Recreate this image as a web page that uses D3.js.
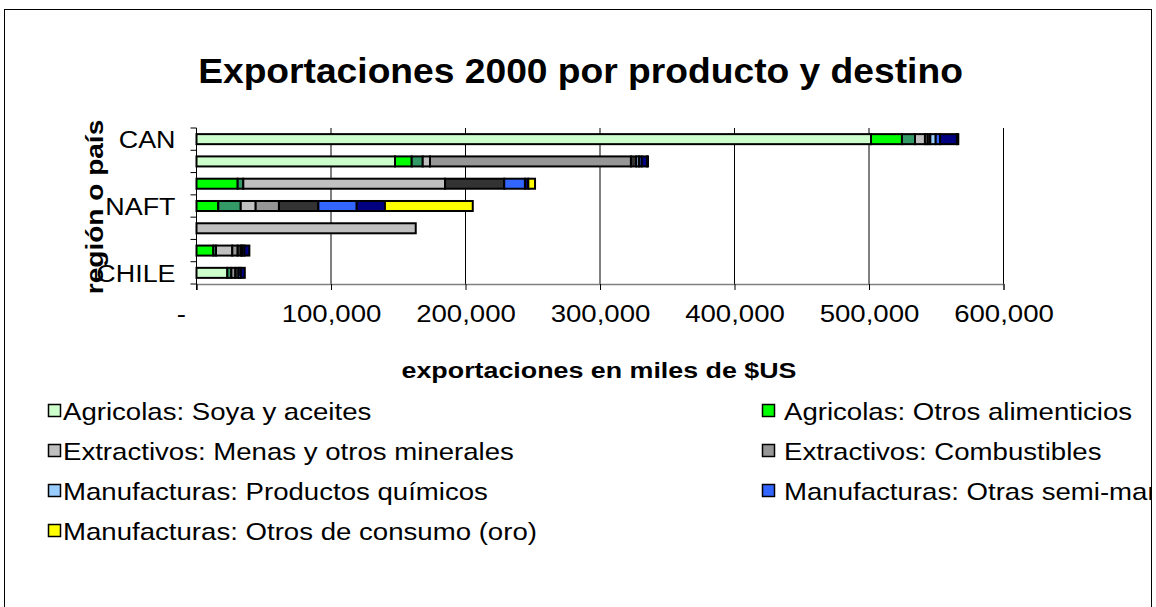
<!DOCTYPE html>
<html>
<head>
  <meta charset="utf-8">
  <title>Exportaciones 2000 por producto y destino</title>
  <script src="https://d3js.org/d3.v7.min.js"></script>
  <style>
    body { margin: 0; overflow: hidden; background: #fff; }
    svg { display: block; font-family: Arial, "Liberation Sans", sans-serif; }
  </style>
</head>
<body>
  <svg width="1156" height="607"></svg>

  <script>
    // categorías (de arriba hacia abajo) y etiquetas visibles cada 3
    const regiones = ["CAN", "MERCOSUR", "UE", "NAFT", "ASIA", "RESTO", "CHILE"];
    const regionesVisibles = ["CAN", "NAFT", "CHILE"];

    // series en el orden de apilamiento
    const series = [
      "Agricolas: Soya y aceites",
      "Agricolas: Otros alimenticios",
      "Agricolas: Otros",
      "Extractivos: Menas y otros minerales",
      "Extractivos: Combustibles",
      "Extractivos: Otros",
      "Manufacturas: Productos químicos",
      "Manufacturas: Otras semi-manufacturas",
      "Manufacturas: Otras",
      "Manufacturas: Otros de consumo (oro)"
    ];
    const colores = ["#ccffcc", "#00ff00", "#339966", "#c0c0c0", "#969696",
                     "#333333", "#99ccff", "#3366ff", "#000080", "#ffff00"];

    // valores en miles de $US, una fila por región
    const soya      = [501.5, 147.6,   0,    0,    0,   0,   22.9];
    const alimentos = [ 23.0,  12.4,  30.6, 16.2,  0,  12.5,  0  ];
    const agrOtros  = [  9.7,   8.2,   4.2, 16.7,  0,   2.0,  3.0];
    const menas     = [  7.4,   5.4, 150.0, 11.1, 163, 12.1,  0  ];
    const combust   = [  2.0, 149.4,   0,   17.3,  0,   4.0,  3.0];
    const extOtros  = [  2.0,   4.0,  44.0, 29.3,  0,   2.5,  2.5];
    const quimicos  = [  4.0,   2.0,   0,    0,    0,   1.0,  0  ];
    const semiManu  = [  3.2,   2.0,  15.4, 28.5,  0,   1.5,  1.5];
    const manOtros  = [ 12.6,   4.0,   2.5, 21.0,  0,   3.7,  3.0];
    const oro       = [  1.0,   0.7,   5.0, 65.3,  0,   0,    0  ];
    const valores = [soya, alimentos, agrOtros, menas, combust, extOtros,
                     quimicos, semiManu, manOtros, oro];

    const ticks = [0, 100000, 200000, 300000, 400000, 500000, 600000];

    // entradas de la leyenda (índices de serie), en dos columnas
    const leyenda = [0, 1, 3, 4, 6, 7, 9];

    const svg = d3.select("svg");

    // el texto del original sale algo ensanchado
    const ancho = (sx, tx, ty) => `translate(${tx},${ty}) scale(${sx},1)`;

    // marco exterior
    svg.append("rect")
      .attr("x", 4.5).attr("y", 9.5)
      .attr("width", 1147).attr("height", 620)
      .attr("fill", "#fff").attr("stroke", "#000").attr("stroke-width", 1);

    svg.append("text")
      .attr("transform", ancho(1.063, 580.5, 83))
      .attr("text-anchor", "middle")
      .attr("font-size", 35).attr("font-weight", "bold")
      .text("Exportaciones 2000 por producto y destino");

    const pLeft = 196.5, pRight = 1003.5, pTop = 128, pBottom = 284;

    const x = d3.scaleLinear().domain([0, 600000]).range([pLeft, pRight]);
    const y = d3.scaleBand().domain(regiones).range([pTop, pBottom])
      .paddingInner(0.55).paddingOuter(0.275);

    // tabla para d3.stack
    const tabla = regiones.map((r, i) => {
      const fila = { region: r };
      series.forEach((s, j) => { fila[s] = valores[j][i] * 1000; });
      return fila;
    });
    const apilado = d3.stack().keys(series)(tabla);

    // rejilla vertical
    svg.append("g")
      .selectAll("line")
      .data(ticks.slice(1))
      .join("line")
      .attr("x1", d => x(d)).attr("x2", d => x(d))
      .attr("y1", pTop).attr("y2", pBottom)
      .attr("stroke", "#000").attr("stroke-width", 1);

    // barras
    svg.append("g")
      .selectAll("g")
      .data(apilado)
      .join("g")
      .attr("fill", (d, i) => colores[i])
      .selectAll("rect")
      .data(d => d.filter(p => p[1] - p[0] > 0))
      .join("rect")
      .attr("x", d => x(d[0]))
      .attr("y", d => y(d.data.region))
      .attr("width", d => x(d[1]) - x(d[0]))
      .attr("height", y.bandwidth())
      .attr("stroke", "#000")
      .attr("stroke-width", 2);

    // eje x
    const ejeX = svg.append("g")
      .attr("transform", `translate(0,${pBottom})`)
      .call(d3.axisBottom(x).tickValues(ticks).tickSize(6)
        .tickFormat(d => d === 0 ? "-" : d3.format(",")(d)));
    ejeX.select(".domain").attr("stroke", "#808080").attr("stroke-width", 1.5);
    ejeX.selectAll(".tick line").attr("stroke", "#000");
    ejeX.selectAll(".tick text")
      .attr("font-size", 23).attr("font-family", "Arial, 'Liberation Sans', sans-serif")
      .attr("fill", "#000").attr("dy", "1.28em")
      .attr("transform", "scale(1.2,1)");
    ejeX.select(".tick text").attr("dx", "-13");

    // eje y
    const ejeY = svg.append("g").attr("transform", `translate(${pLeft},0)`);
    ejeY.append("line")
      .attr("y1", pTop).attr("y2", pBottom + 6)
      .attr("stroke", "#000");
    const limites = regiones.map(r => y(r) - y.step() * y.paddingInner() / 2)
      .concat([pBottom]);
    ejeY.selectAll("line.tk")
      .data(limites)
      .join("line")
      .attr("class", "tk")
      .attr("x1", -6).attr("x2", 0)
      .attr("y1", d => d).attr("y2", d => d)
      .attr("stroke", "#000");
    ejeY.selectAll("text")
      .data(regionesVisibles)
      .join("text")
      .attr("transform", d => ancho(1.12, -21, y(d) + y.bandwidth() / 2))
      .attr("dy", "0.36em")
      .attr("text-anchor", "end")
      .attr("font-size", 24)
      .text(d => d);

    // títulos de ejes
    svg.append("text")
      .attr("transform", ancho(1.22, 599, 378))
      .attr("text-anchor", "middle")
      .attr("font-size", 22).attr("font-weight", "bold")
      .text("exportaciones en miles de $US");

    svg.append("text")
      .attr("transform", `translate(103,${(pTop + pBottom) / 2 + 1}) rotate(-90) scale(1.22,1)`)
      .attr("text-anchor", "middle")
      .attr("font-size", 23).attr("font-weight", "bold")
      .text("región o país");

    // leyenda
    const items = svg.append("g")
      .selectAll("g")
      .data(leyenda)
      .join("g")
      .attr("transform", (d, i) =>
        `translate(${i % 2 === 0 ? 48 : 762},${411 + Math.floor(i / 2) * 40})`);
    items.append("rect")
      .attr("x", 0.5).attr("y", -6.5)
      .attr("width", 12).attr("height", 12)
      .attr("fill", d => colores[d])
      .attr("stroke", "#000").attr("stroke-width", 1.5);
    items.append("text")
      .attr("transform", (d, i) => ancho(1.15, i % 2 === 0 ? 15 : 22, 0))
      .attr("dy", "0.36em")
      .attr("font-size", 24)
      .text(d => series[d]);

    // recorte del borde derecho
    svg.append("rect")
      .attr("x", 1152).attr("y", 0).attr("width", 10).attr("height", 607)
      .attr("fill", "#fff");
    svg.append("line")
      .attr("x1", 1151.5).attr("x2", 1151.5).attr("y1", 9.5).attr("y2", 607)
      .attr("stroke", "#000");
  </script>
</body>
</html>
